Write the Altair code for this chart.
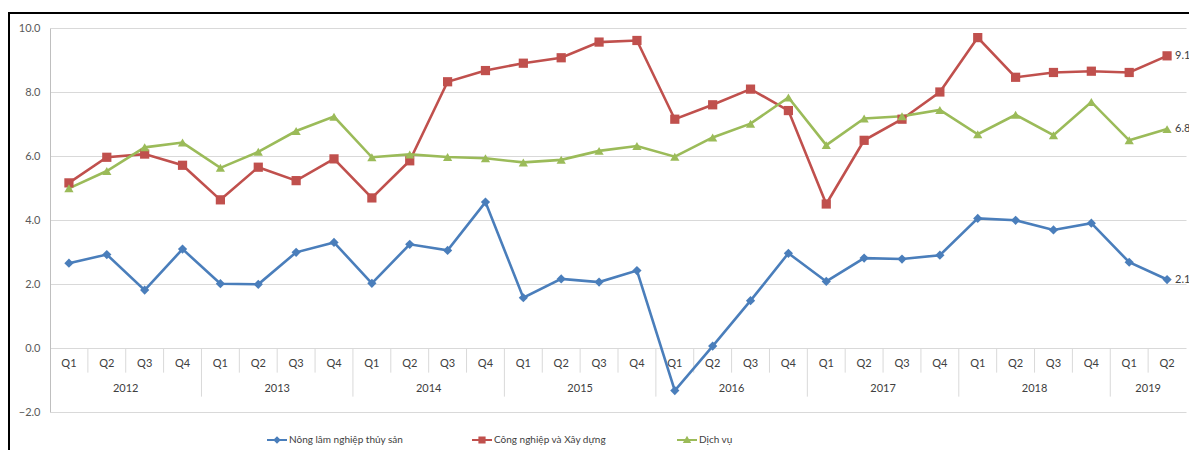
import altair as alt
import pandas as pd

# Quarterly GDP growth by sector (%), 2012Q1 - 2019Q2
years = ["2012"] * 4 + ["2013"] * 4 + ["2014"] * 4 + ["2015"] * 4 + ["2016"] * 4 + \
        ["2017"] * 4 + ["2018"] * 4 + ["2019"] * 2
quarters = ["Q1", "Q2", "Q3", "Q4"] * 7 + ["Q1", "Q2"]

agri = [2.65, 2.92, 1.81, 3.09, 2.01, 1.99, 2.99, 3.30, 2.02, 3.24, 3.05, 4.56,
        1.57, 2.16, 2.06, 2.42, -1.33, 0.06, 1.48, 2.96, 2.08, 2.81, 2.78, 2.90,
        4.05, 3.99, 3.69, 3.90, 2.68, 2.14]
industry = [5.16, 5.96, 6.06, 5.71, 4.63, 5.65, 5.23, 5.91, 4.69, 5.85, 8.32, 8.67,
            8.90, 9.07, 9.56, 9.61, 7.15, 7.60, 8.09, 7.42, 4.50, 6.49, 7.15, 8.00,
            9.70, 8.46, 8.61, 8.65, 8.61, 9.13]
services = [4.99, 5.53, 6.27, 6.42, 5.63, 6.13, 6.78, 7.23, 5.96, 6.05, 5.97, 5.93,
            5.80, 5.88, 6.16, 6.31, 5.98, 6.58, 7.01, 7.83, 6.34, 7.17, 7.24, 7.44,
            6.68, 7.29, 6.65, 7.69, 6.49, 6.84]

names = ["Nông lâm nghiệp thủy sản", "Công nghiệp và Xây dựng", "Dịch vụ"]
colors = ["#4A7EBB", "#C0504D", "#9BBB59"]
shapes = ["diamond", "square", "triangle-up"]

FONT = "Lato"
W, H = 1136, 384

n = len(quarters)
rows = []
for name, vals in zip(names, [agri, industry, services]):
    for i in range(n):
        rows.append({"idx": i, "series": name, "value": vals[i],
                     "label": f"{vals[i]:.1f}" if i == n - 1 else ""})
long_df = pd.DataFrame(rows)

cat_df = pd.DataFrame({"idx": range(n), "q": quarters, "year": years})

# separators between quarter cells; year boundaries reach lower
sep_rows = []
for i in range(1, n):
    is_year = years[i] != years[i - 1]
    sep_rows.append({"x": i - 0.5, "y": 0.0, "y2": -1.52 if is_year else -0.77})
sep_df = pd.DataFrame(sep_rows)

x_scale = alt.Scale(domain=[-0.5, n - 0.5], nice=False, zero=False)
y_scale = alt.Scale(domain=[-2, 10], nice=False)
color_scale = alt.Scale(domain=names, range=colors)

x_enc = alt.X("idx:Q", scale=x_scale, axis=None)

base_y = alt.Y("value:Q", scale=y_scale, title=None,
               axis=alt.Axis(values=[-2, 0, 2, 4, 6, 8, 10], format=".1f",
                             grid=True, gridColor="#D9D9D9", gridWidth=1,
                             domainColor="#BFBFBF", ticks=False, labelPadding=10,
                             labelFont=FONT, labelFontSize=11, labelColor="#595959"))

grid = alt.Chart(long_df).mark_point(opacity=0).encode(x=x_enc, y=base_y)

seps = alt.Chart(sep_df).mark_rule(color="#D9D9D9", strokeWidth=1).encode(
    x=alt.X("x:Q", scale=x_scale, axis=None),
    y=alt.Y("y:Q", scale=y_scale),
    y2="y2:Q",
)

q_text = alt.Chart(cat_df).mark_text(font=FONT, fontSize=11, color="#404040").encode(
    x=x_enc, y=alt.YDatum(-0.5), text="q:N"
)

year_text = alt.Chart(cat_df).transform_aggregate(
    mid="mean(idx)", groupby=["year"]
).mark_text(font=FONT, fontSize=11, color="#404040").encode(
    x=alt.X("mid:Q", scale=x_scale, axis=None), y=alt.YDatum(-1.28), text="year:N"
)

lines = alt.Chart(long_df).mark_line(strokeWidth=2.6).encode(
    x=x_enc, y=alt.Y("value:Q", scale=y_scale),
    color=alt.Color("series:N", scale=color_scale, legend=None),
    detail="series:N",
)

points = alt.Chart(long_df).mark_point(filled=True, opacity=1, size=85).encode(
    x=x_enc, y=alt.Y("value:Q", scale=y_scale),
    color=alt.Color("series:N", scale=color_scale, legend=None),
    shape=alt.Shape("series:N", scale=alt.Scale(domain=names, range=shapes), legend=None),
)

end_labels = alt.Chart(long_df).transform_filter("datum.label != ''").mark_text(
    align="left", dx=8, font=FONT, fontSize=11, color="#404040"
).encode(x=x_enc, y=alt.Y("value:Q", scale=y_scale), text="label:N")

# legend symbols: a short line with the series marker in its middle
stub = "M-1,-0.1H1V0.1H-1Z "
legend_paths = [
    stub + "M0,-0.38L0.38,0L0,0.38L-0.38,0Z",
    stub + "M-0.36,-0.36H0.36V0.36H-0.36Z",
    stub + "M0,-0.42L0.42,0.3H-0.42Z",
]
legend_props = dict(orient="none", legendX=217, legendY=402,
                    direction="horizontal", columns=3,
                    gridAlign="all", columnPadding=68,
                    symbolSize=400, symbolStrokeWidth=0,
                    labelOffset=2, labelFont=FONT,
                    labelFontSize=10, labelColor="#404040")
legend_layer = alt.Chart(long_df).transform_filter("false").mark_point(
    filled=True, opacity=1
).encode(
    x=x_enc, y=alt.Y("value:Q", scale=y_scale),
    color=alt.Color("series:N", scale=color_scale, title=None,
                    legend=alt.Legend(**legend_props)),
    shape=alt.Shape("series:N", scale=alt.Scale(domain=names, range=legend_paths),
                    title=None, legend=alt.Legend(**legend_props)),
)

frame = alt.Chart(pd.DataFrame({"a": [0]})).mark_rect(
    fill="transparent", stroke="#000000", strokeWidth=2
).encode(x=alt.value(-41), x2=alt.value(W + 80), y=alt.value(-15), y2=alt.value(H + 90))

chart = alt.layer(
    grid, seps, q_text, year_text, lines, points, end_labels, legend_layer, frame
).resolve_scale(
    shape="independent", color="independent"
).properties(
    width=W, height=H,
    autosize=alt.AutoSizeParams(type="none"),
    padding={"left": 50, "top": 28, "right": 3, "bottom": 38},
    background="white",
).configure_view(stroke=None)

chart.save("out.html", embed_options={"renderer": "svg", "actions": False})
